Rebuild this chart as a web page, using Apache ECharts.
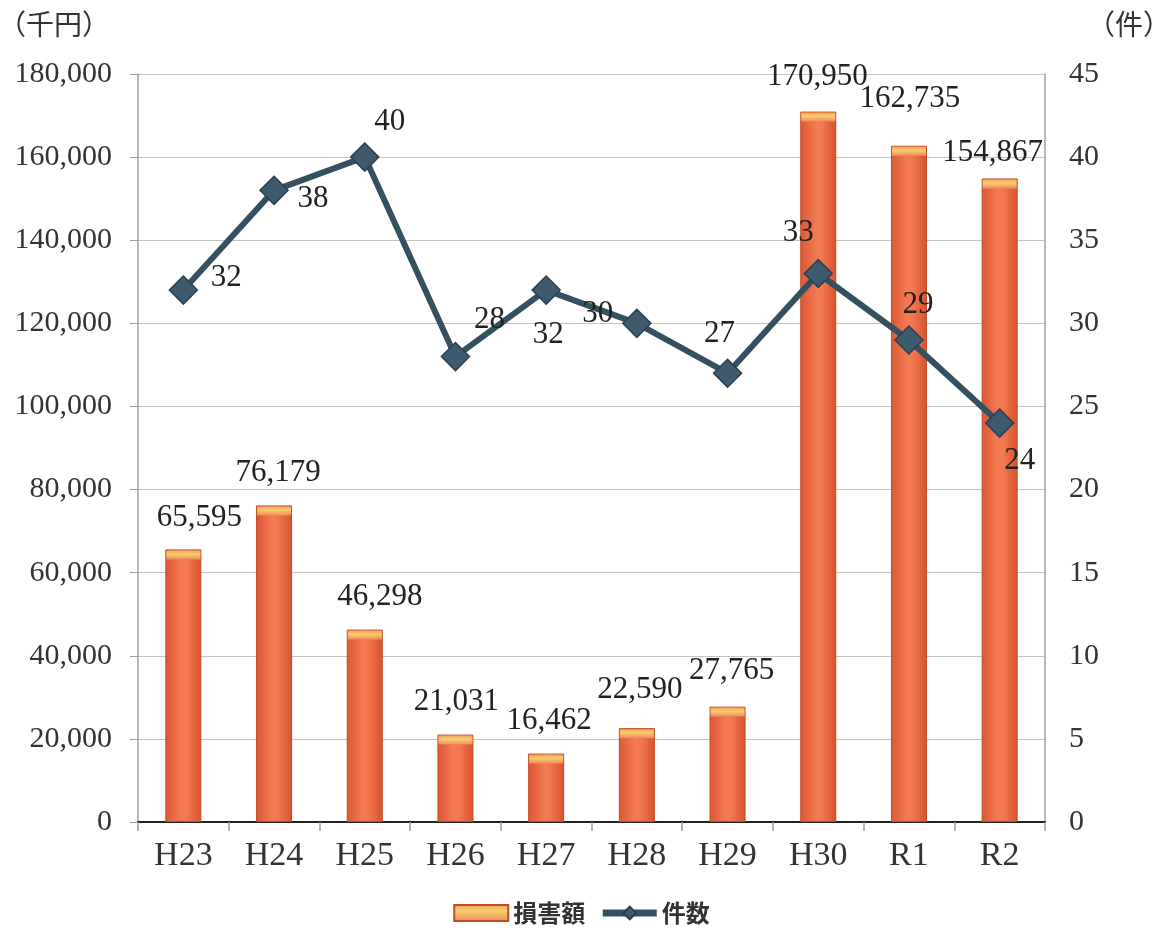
<!DOCTYPE html>
<html lang="ja">
<head>
<meta charset="utf-8">
<title>損害額・件数の推移</title>
<script src="https://cdn.jsdelivr.net/npm/echarts@6/dist/echarts.min.js"></script>
<style>
  html, body { margin: 0; padding: 0; background: #fff; }
  #chart { width: 1163px; height: 932px; }
</style>
</head>
<body>
<div id="chart"></div>
<script>
// 年度
const categories = ['H23', 'H24', 'H25', 'H26', 'H27', 'H28', 'H29', 'H30', 'R1', 'R2'];
// 損害額（千円）
const damage = [65595, 76179, 46298, 21031, 16462, 22590, 27765, 170950, 162735, 154867];
// 件数（件）
const counts = [32, 38, 40, 28, 32, 30, 27, 33, 29, 24];

// label placement tweaks (px) for each year
const damageLabelShift = [[16, 1], [4, 0], [15, 0], [1, 0], [3, 0], [3, -6], [4, -3], [-1, -2], [1, -14], [-7, 7]];
const countLabelShift = [[43, -12], [39, 9], [25, -35], [34, -37], [2, 45], [-39, -9], [-8, -39], [-20, -41], [9, -35], [20, 38]];

const serif = '"Liberation Serif", "Times New Roman", serif';
const cjk = '"Noto Sans CJK JP", "Noto Sans", sans-serif';

const barFill = {
  type: 'linear', x: 0, y: 0, x2: 1, y2: 0,
  colorStops: [
    { offset: 0, color: '#DA5731' },
    { offset: 0.45, color: '#F37B54' },
    { offset: 0.6, color: '#F27850' },
    { offset: 1, color: '#D6522D' }
  ]
};
const capFill = {
  type: 'linear', x: 0, y: 0, x2: 0, y2: 1,
  colorStops: [
    { offset: 0, color: '#F3A25C' },
    { offset: 0.4, color: '#F9D06C' },
    { offset: 1, color: '#F2875A' }
  ]
};

const chart = echarts.init(document.getElementById('chart'), null, { renderer: 'canvas' });

chart.setOption({
  animation: false,
  backgroundColor: '#ffffff',
  grid: { left: 138, right: 118, top: 74, bottom: 110, containLabel: false, outerBoundsMode: 'none' },
  legend: {
    bottom: 2,
    left: 'center',
    itemWidth: 54,
    itemHeight: 16,
    itemGap: 14,
    textStyle: { fontFamily: cjk, fontSize: 24, color: '#333', fontWeight: 'bold' },
    data: [
      { name: '損害額', icon: 'rect', itemStyle: { color: capFill } },
      { name: '件数', lineStyle: { width: 7 } }
    ]
  },
  xAxis: [
    {
      type: 'category',
      data: categories,
      position: 'bottom',
      axisLine: { lineStyle: { color: '#9a9a9a', width: 1.5 } },
      axisTick: { show: true, length: 9, lineStyle: { color: '#9a9a9a', width: 1.5 } },
      axisLabel: { fontFamily: serif, fontSize: 34, color: '#333', margin: 17 }
    },
    {
      type: 'category',
      data: categories,
      position: 'top',
      axisLine: { lineStyle: { color: '#222', width: 2 } },
      axisTick: { show: false },
      axisLabel: { show: false }
    }
  ],
  yAxis: [
    {
      type: 'value',
      min: 0, max: 180000, interval: 20000,
      name: '（千円）',
      nameLocation: 'end',
      nameGap: 36,
      nameTextStyle: { fontFamily: cjk, fontSize: 28, color: '#333', align: 'right', padding: [0, 28, 0, 0] },
      axisLine: { show: true, lineStyle: { color: '#a0a0a0', width: 1.5 } },
      axisTick: { show: true, length: 8, lineStyle: { color: '#a0a0a0' } },
      axisLabel: {
        fontFamily: serif, fontSize: 30, color: '#333', margin: 26,
        formatter: v => v.toLocaleString('en-US')
      },
      splitLine: { show: true, lineStyle: { color: '#c4c4c4', width: 1.2 } }
    },
    {
      type: 'value',
      min: 0, max: 45, interval: 5,
      name: '（件）',
      nameLocation: 'end',
      nameGap: 36,
      nameTextStyle: { fontFamily: cjk, fontSize: 28, color: '#333', align: 'left', padding: [0, 0, 0, 42] },
      axisLine: { show: true, lineStyle: { color: '#a0a0a0', width: 1.5 } },
      axisTick: { show: false },
      axisLabel: { fontFamily: serif, fontSize: 30, color: '#333', margin: 24 },
      splitLine: { show: false }
    }
  ],
  series: [
    {
      name: '損害額',
      type: 'bar',
      xAxisIndex: 0,
      yAxisIndex: 0,
      barWidth: 36,
      z: 2,
      itemStyle: { color: barFill, borderColor: '#C24A27', borderWidth: 1 },
      label: {
        show: true,
        position: 'top',
        distance: 17,
        fontFamily: serif,
        fontSize: 31,
        color: '#222',
        formatter: p => p.value.toLocaleString('en-US')
      },
      data: damage.map((v, i) => ({ value: v, label: { offset: damageLabelShift[i] } }))
    },
    {
      name: '損害額',
      type: 'pictorialBar',
      xAxisIndex: 0,
      yAxisIndex: 0,
      symbol: 'rect',
      symbolSize: [34, 9],
      symbolPosition: 'end',
      symbolOffset: [0, 1],
      z: 3,
      silent: true,
      itemStyle: { color: capFill },
      label: { show: false },
      data: damage
    },
    {
      name: '件数',
      type: 'line',
      xAxisIndex: 0,
      yAxisIndex: 1,
      z: 5,
      symbol: 'diamond',
      symbolSize: 28,
      lineStyle: { color: '#35505F', width: 6 },
      itemStyle: { color: '#3D5A6E', borderColor: '#2B4050', borderWidth: 1.5 },
      label: {
        show: true,
        position: 'inside',
        fontFamily: serif,
        fontSize: 31,
        color: '#222'
      },
      data: counts.map((v, i) => ({ value: v, label: { offset: countLabelShift[i] } }))
    }
  ]
});
</script>
</body>
</html>
